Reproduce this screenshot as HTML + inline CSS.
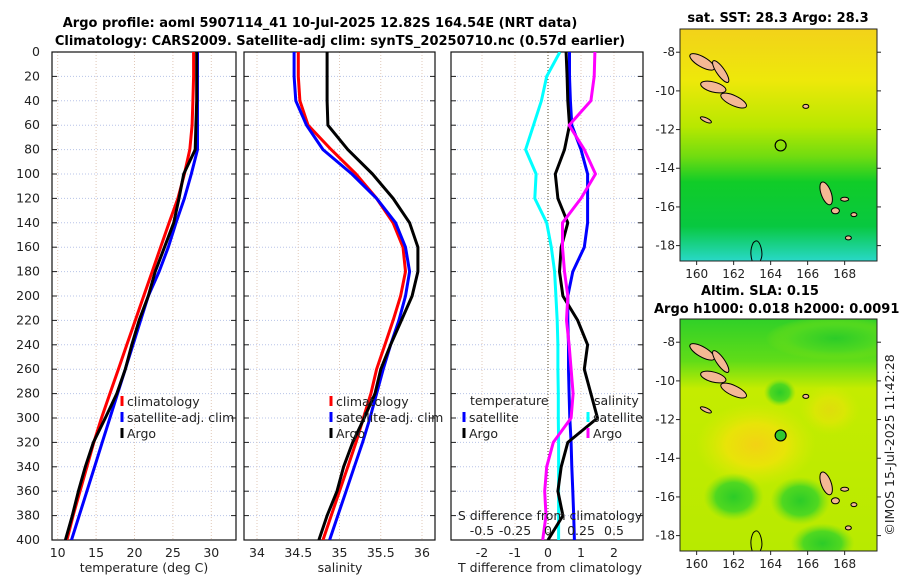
<!DOCTYPE html>
<html><head><meta charset="utf-8">
<style>
html,body{margin:0;padding:0;background:#fff;}
svg{display:block;font-family:"DejaVu Sans","Liberation Sans",sans-serif;}
</style></head>
<body>
<svg id="chart" width="900" height="580" viewBox="0 0 900 580" xmlns="http://www.w3.org/2000/svg">
<defs>
<linearGradient id="sstg" x1="0" y1="0" x2="0" y2="1">
<stop offset="0" stop-color="#f2d21a"/><stop offset="0.22" stop-color="#eee80a"/>
<stop offset="0.42" stop-color="#b8e800"/><stop offset="0.55" stop-color="#70dc10"/>
<stop offset="0.66" stop-color="#10cc28"/><stop offset="0.85" stop-color="#08c840"/>
<stop offset="1" stop-color="#28d8c8"/></linearGradient>
<linearGradient id="slabase" x1="0" y1="0" x2="0" y2="1">
<stop offset="0" stop-color="#30d028"/><stop offset="0.18" stop-color="#60dc18"/>
<stop offset="0.3" stop-color="#c4ec00"/><stop offset="1" stop-color="#b8ea00"/></linearGradient>
<radialGradient id="slay" cx="0.5" cy="0.5" r="0.5">
<stop offset="0" stop-color="#f2d214"/><stop offset="0.5" stop-color="#e8e408"/>
<stop offset="1" stop-color="#d8ec04" stop-opacity="0"/></radialGradient>
<radialGradient id="slagr" cx="0.5" cy="0.5" r="0.5">
<stop offset="0" stop-color="#2ccc28"/><stop offset="0.6" stop-color="#50d820"/>
<stop offset="1" stop-color="#80e010" stop-opacity="0"/></radialGradient>
<clipPath id="c1"><rect x="52" y="52" width="184" height="488"/></clipPath>
<clipPath id="c2"><rect x="244" y="52" width="191" height="488"/></clipPath>
<clipPath id="c3"><rect x="451" y="52" width="192" height="488"/></clipPath>
<clipPath id="m1"><rect x="680" y="29" width="197" height="232"/></clipPath>
<clipPath id="m2"><rect x="680" y="319" width="197" height="232"/></clipPath>
</defs>
<text x="320" y="27" text-anchor="middle" font-size="13" font-weight="bold">Argo profile: aoml 5907114_41 10-Jul-2025 12.82S 164.54E (NRT data)</text>
<text x="340" y="45" text-anchor="middle" font-size="13" font-weight="bold">Climatology: CARS2009. Satellite-adj clim: synTS_20250710.nc (0.57d earlier)</text>
<g id="g1"></g>
<g id="g2"></g>
<g id="g3"></g>
<g id="maps"></g>
<text transform="translate(894,445) rotate(-90)" text-anchor="middle" font-size="12.5" fill="#222">©IMOS 15-Jul-2025 11:42:28</text>
</svg>
<script>
const depths=[0,20,40,60,80,100,120,140,160,180,200,220,240,260,280,300,320,340,360,380,400];
const tempClim=[27.7,27.7,27.6,27.5,27.2,26.5,25.65,24.5,23.4,22.3,21.2,20.1,19.0,17.9,16.8,15.7,14.7,13.8,12.9,12.0,11.2];
const tempSat=[28.2,28.2,28.2,28.2,28.2,27.4,26.5,25.4,24.4,23.2,21.8,20.8,19.8,18.8,17.8,16.8,15.8,14.8,13.8,12.8,11.8];
const tempArgo=[28.1,28.1,28.1,28.0,27.9,26.4,25.8,25.1,23.9,22.7,21.8,20.6,19.65,18.8,17.7,16.2,14.65,13.6,12.7,11.9,11.0];
const salClim=[34.5,34.5,34.52,34.62,34.9,35.2,35.45,35.65,35.77,35.8,35.74,35.65,35.55,35.45,35.38,35.29,35.2,35.1,35.0,34.9,34.8];
const salSat=[34.45,34.45,34.47,34.6,34.8,35.15,35.45,35.68,35.8,35.85,35.8,35.72,35.62,35.53,35.45,35.37,35.28,35.18,35.08,34.98,34.88];
const salArgo=[34.85,34.85,34.85,34.86,35.1,35.4,35.65,35.85,35.95,35.95,35.88,35.75,35.62,35.5,35.43,35.3,35.16,35.05,34.97,34.85,34.75];
const tDiffSat=[0.65,0.65,0.68,0.72,1.0,1.2,1.2,1.2,1.1,0.75,0.6,0.6,0.62,0.62,0.64,0.66,0.7,0.72,0.75,0.78,0.8];
const tDiffArgo=[0.55,0.58,0.6,0.65,0.5,0.22,0.3,0.6,0.4,0.35,0.45,0.9,1.2,1.1,1.3,1.5,0.6,0.4,0.3,0.45,0.0];
const sDiffSat=[0.09,-0.01,-0.05,-0.11,-0.17,-0.09,-0.1,-0.01,0.025,0.05,0.06,0.07,0.075,0.075,0.078,0.078,0.08,0.08,0.08,0.08,0.08];
const sDiffArgo=[0.355,0.35,0.325,0.16,0.275,0.36,0.25,0.11,0.11,0.125,0.15,0.14,0.16,0.175,0.19,0.175,0.04,-0.01,-0.025,-0.015,-0.04];
const depthTicks=[0,20,40,60,80,100,120,140,160,180,200,220,240,260,280,300,320,340,360,380,400];
const tTicks=[10,15,20,25,30];
const sTicks=[34,34.5,35,35.5,36];
const dTicks=[-2,-1,0,1,2];
const sdTicks=[-0.5,-0.25,0,0.25,0.5];
const lonTicks=[160,162,164,166,168];
const latTicks=[-8,-10,-12,-14,-16,-18];
const argoLon=164.54, argoLat=-12.82;

const NS='http://www.w3.org/2000/svg';
function mk(parent,tag,attrs){const e=document.createElementNS(NS,tag);for(const k in attrs)e.setAttribute(k,attrs[k]);parent.appendChild(e);return e;}
const Y=d=>52+d*1.22;
const xT=t=>57.7+(t-10)*7.68;
const xS=s=>257+(s-34)*82.5;
const xD=v=>548+v*33;
const xSD=v=>548+v*132;

function panel(g,x0,x1,grid,gridFn){
  for(const d of depthTicks){
    const l=mk(g,'line',{x1:x0,x2:x1,y1:Y(d),y2:Y(d),stroke:'#b8c4e8','stroke-width':1,'stroke-dasharray':'1,2'});
    
    mk(g,'line',{x1:x0,x2:x0+5,y1:Y(d),y2:Y(d),stroke:'#222'});
    mk(g,'line',{x1:x1-5,x2:x1,y1:Y(d),y2:Y(d),stroke:'#222'});
  }
  for(const v of grid){
    const l=mk(g,'line',{x1:gridFn(v),x2:gridFn(v),y1:52,y2:540,stroke:'#e0c8b8','stroke-width':1,'stroke-dasharray':'1,2'});
    
  }
  const r=mk(g,'rect',{x:x0,y:52,width:x1-x0,height:488,fill:'none',stroke:'#111','stroke-width':1.2});
  
}
function line(g,xs,fn,color,name,clip,w){
  const pts=depths.map((d,i)=>fn(xs[i]).toFixed(1)+','+Y(d).toFixed(1)).join(' ');
  const p=mk(g,'polyline',{points:pts,fill:'none',stroke:color,'stroke-width':w||3,'stroke-linejoin':'round','clip-path':'url(#'+clip+')'});
  
}
function txt(g,x,y,s,name,o){const t=mk(g,'text',Object.assign({x:x,y:y,'font-size':12.5,fill:'#222'},o||{}));t.textContent=s;return t;}
function legend(g,x,y,color,label,name){
  const l=mk(g,'line',{x1:x,x2:x,y1:y-10,y2:y,stroke:color,'stroke-width':3});
  
  txt(g,x+5,y,label,name);
}

// Panel 1
const g1=document.getElementById('g1');
panel(g1,52,236,tTicks,xT);
for(const d of depthTicks){txt(g1,40,Y(d)+4,String(d),'y-tick-label',{'text-anchor':'end'});}
for(const t of tTicks){txt(g1,xT(t),557,String(t),'x-tick-label',{'text-anchor':'middle'});}
txt(g1,144,572,'temperature (deg C)','x-axis-title',{'text-anchor':'middle'});
line(g1,tempClim,xT,'#f00','temp-climatology-line','c1');
line(g1,tempSat,xT,'#00f','temp-satellite-line','c1');
line(g1,tempArgo,xT,'#000','temp-argo-line','c1');
legend(g1,122,406,'#f00','climatology','legend-climatology');
legend(g1,122,422,'#00f','satellite-adj. clim','legend-satellite');
legend(g1,122,438,'#000','Argo','legend-argo');

// Panel 2
const g2=document.getElementById('g2');
panel(g2,244,435,sTicks,xS);
for(const s of sTicks){txt(g2,xS(s),557,String(s),'x-tick-label',{'text-anchor':'middle'});}
txt(g2,340,572,'salinity','x-axis-title',{'text-anchor':'middle'});
line(g2,salClim,xS,'#f00','sal-climatology-line','c2');
line(g2,salSat,xS,'#00f','sal-satellite-line','c2');
line(g2,salArgo,xS,'#000','sal-argo-line','c2');
legend(g2,331,406,'#f00','climatology','legend-climatology');
legend(g2,331,422,'#00f','satellite-adj. clim','legend-satellite');
legend(g2,331,438,'#000','Argo','legend-argo');

// Panel 3
const g3=document.getElementById('g3');
panel(g3,451,643,dTicks.filter(v=>v!==0),xD);
mk(g3,'line',{x1:xD(0),x2:xD(0),y1:52,y2:540,stroke:'#554422','stroke-width':1,'stroke-dasharray':'1,2'});
for(const v of dTicks){txt(g3,xD(v),557,String(v),'x-tick-label',{'text-anchor':'middle'});}
txt(g3,550,572,'T difference from climatology','x-axis-title',{'text-anchor':'middle'});
line(g3,sDiffSat,xSD,'#0ff','sdiff-satellite-line','c3');
line(g3,tDiffSat,xD,'#00f','tdiff-satellite-line','c3');
line(g3,tDiffArgo,xD,'#000','tdiff-argo-line','c3');
line(g3,sDiffArgo,xSD,'#f0f','sdiff-argo-line','c3');
txt(g3,470,405,'temperature','legend-temperature-heading');
txt(g3,594,405,'salinity','legend-salinity-heading');
legend(g3,464,422,'#00f','satellite','legend-t-satellite');
legend(g3,464,438,'#000','Argo','legend-t-argo');
legend(g3,588,422,'#0ff','satellite','legend-s-satellite');
legend(g3,588,438,'#f0f','Argo','legend-s-argo');
txt(g3,550,520,'S difference from climatology','s-axis-title',{'text-anchor':'middle'});
for(const v of sdTicks){txt(g3,xSD(v),535,String(v),'s-tick-label',{'text-anchor':'middle'});}

// Maps
const gm=document.getElementById('maps');
function map(y0,fill,clip,sla){
  const lonX=l=>680+(l-159.1)*18.5;
  const latY=l=>y0+(-6.8-l)*19.34;
  const bg=mk(gm,'rect',{x:680,y:y0,width:197,height:232,fill:fill});
  
  const g=mk(gm,'g',{'clip-path':'url(#'+clip+')'});
  if(sla){
    mk(g,'ellipse',{cx:lonX(163.2),cy:latY(-13.3),rx:60,ry:42,fill:'url(#slay)'});
    mk(g,'ellipse',{cx:lonX(167.2),cy:latY(-11.5),rx:30,ry:25,fill:'url(#slay)',opacity:0.6});
    [[162.0,-16.0,30,24],[165.6,-16.2,30,24],[166.8,-18.4,32,20],[164.5,-10.6,16,14],[167.5,-7.8,70,22]].forEach(b=>mk(g,'ellipse',{cx:lonX(b[0]),cy:latY(b[1]),rx:b[2],ry:b[3],fill:'url(#slagr)'}));
  }
  const isl=[[160.3,-8.5,14,5,30],[161.3,-9.0,13,4,55],[160.9,-9.8,13,5,15],[162,-10.5,14,5,25],[160.5,-11.5,6,2,25],[167,-15.3,5,12,-20],[167.5,-16.2,4,3,0],[168,-15.6,4,2,0],[168.2,-17.6,3,2,0],[168.5,-16.4,3,2,0],[165.9,-10.8,3,2,0]];
  for(const s of isl){const e=mk(g,'ellipse',{cx:lonX(s[0]),cy:latY(s[1]),rx:s[2],ry:s[3],fill:'#f4b894',stroke:'#000','stroke-width':1,transform:'rotate('+s[4]+' '+lonX(s[0])+' '+latY(s[1])+')'});}
  mk(g,'path',{d:'M'+lonX(163)+','+(y0+232)+' q-3,-10 1,-18 q5,-6 8,5 q2,8 -1,13',fill:'none',stroke:'#000','stroke-width':1});
  const c=mk(gm,'circle',{cx:lonX(argoLon),cy:latY(argoLat),r:5.5,fill:sla?'#30c830':'none',stroke:'#000','stroke-width':1.2});
  
  const f=mk(gm,'rect',{x:680,y:y0,width:197,height:232,fill:'none',stroke:'#222','stroke-width':1});
  
  for(const l of lonTicks){txt(gm,lonX(l),y0+249,String(l),'lon-tick-label',{'text-anchor':'middle','font-size':12});mk(gm,'line',{x1:lonX(l),x2:lonX(l),y1:y0+232,y2:y0+236,stroke:'#222'});}
  for(const l of latTicks){txt(gm,675,latY(l)+4,String(l),'lat-tick-label',{'text-anchor':'end','font-size':12});mk(gm,'line',{x1:676,x2:680,y1:latY(l),y2:latY(l),stroke:'#222'});mk(gm,'line',{x1:877,x2:881,y1:latY(l),y2:latY(l),stroke:'#222'});}
}
map(29,'url(#sstg)','m1',false);
map(319,'url(#slabase)','m2',true);
txt(gm,778,22,'sat. SST: 28.3 Argo: 28.3','sst-map-title',{'text-anchor':'middle','font-weight':'bold','font-size':13,fill:'#000'});
txt(gm,760,295,'Altim. SLA: 0.15','sla-map-title',{'text-anchor':'middle','font-weight':'bold','font-size':13,fill:'#000'});
txt(gm,654,313,'Argo h1000: 0.018 h2000: 0.0091','sla-map-subtitle',{'font-weight':'bold','font-size':13,fill:'#000'});
</script>
</body></html>
